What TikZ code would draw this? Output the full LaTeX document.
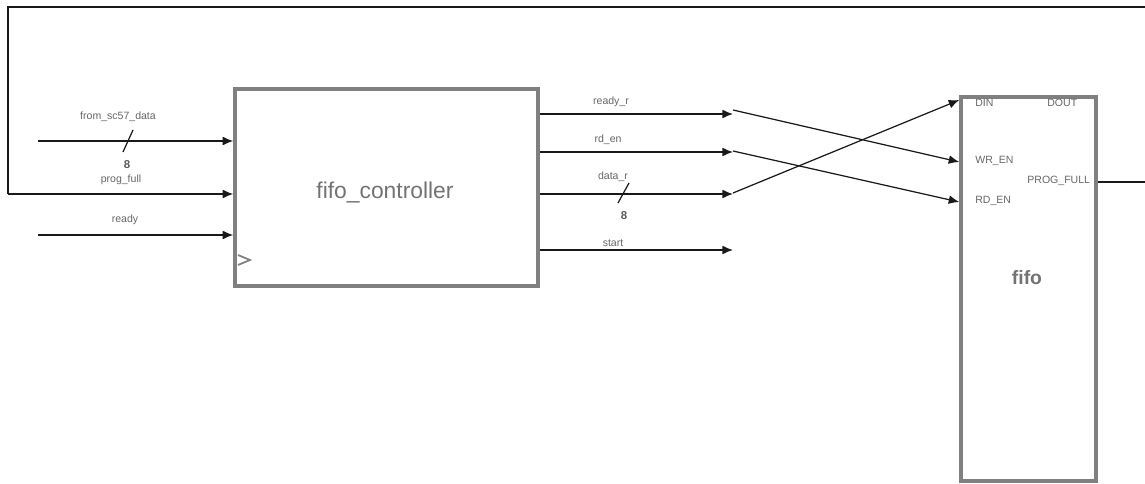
\documentclass[tikz,border=0pt]{standalone}
\usepackage{fontspec}
\setsansfont{Liberation Sans}
\usetikzlibrary{arrows.meta,positioning,calc}

\begin{document}
\begin{tikzpicture}[x=0.02cm,y=-0.02cm,
  every node/.style={font=\sffamily\fontsize{6}{7}\selectfont,text=black!60},
  block/.style={draw=black!50,line width=2pt,inner sep=0pt},
  title/.style={font=\sffamily\fontsize{13}{15}\selectfont,text=black!55},
  port/.style={anchor=west,inner sep=0pt},
  sig/.style={draw=black!90,line width=0.7pt,-{Latex[length=6pt,width=5pt]}},
  wire/.style={draw=black!90,line width=0.7pt},
  bus/.style={font=\sffamily\bfseries\fontsize{6.5}{7}\selectfont,text=black!65}]
\useasboundingbox (0,0) rectangle (1145,483);
\clip (0,0) rectangle (1145,483);

% blocks
\node[block,minimum width=6.06cm,minimum height=3.94cm] (ctrl) at (386.5,187.5) {};
\node[title] at (385,192) {fifo\_controller};
\draw[black!50,line width=1pt] (238,255) -- (250,260) -- (238,265);
\node[block,minimum width=2.7cm,minimum height=7.68cm] (fifo) at (1028.5,289) {};
\node[title,font=\sffamily\bfseries\fontsize{11}{13}\selectfont] at (1027,278) {fifo};

% fifo ports
\node[port] (din) at (975,103) {DIN};
\node[port] (dout) at (1047,103) {DOUT};
\node[port] (wren) at (975,161) {WR\_EN};
\node[port] (rden) at (975,201) {RD\_EN};
\node[port] (pfull) at (1027,181) {PROG\_FULL};

% inputs
\coordinate (fsrc) at (38,141);
\coordinate (rsrc) at (38,235);
\draw[sig] (fsrc) -- (fsrc -| ctrl.west);
\node at (118,117) {from\_sc57\_data};
\draw[wire] (123,152) -- (133,130);
\node[bus] at (127,165) {8};
\node at (121,180) {prog\_full};
\draw[sig] (rsrc) -- (rsrc -| ctrl.west);
\node at (125,220) {ready};

% outputs
\coordinate (rr) at (733,114);
\coordinate (re) at (733,152);
\coordinate (dr) at (733,194);
\coordinate (st) at (733,250);
\draw[sig] (rr -| ctrl.east) -- (rr);
\node at (611,102) {ready\_r};
\draw[sig] (re -| ctrl.east) -- (re);
\node at (608,140) {rd\_en};
\draw[sig] (dr -| ctrl.east) -- (dr);
\node at (613,177) {data\_r};
\draw[wire] (618,203) -- (629,183);
\node[bus] at (624,216) {8};
\draw[sig] (st -| ctrl.east) -- (st);
\node at (613,243) {start};

% crossing to fifo
\draw[sig] (733,110) -- (fifo.west |- 0,162);
\draw[sig] (733,151) -- (fifo.west |- 0,202);
\draw[sig] (733,193) -- (fifo.west |- 0,100);

% prog_full loop
\coordinate (lp) at (8,194);
\draw[wire] (fifo.east |- 0,182) -- (1150,182) -- (1150,7) -- (8,7) -- (lp);
\draw[sig] (lp) -- (lp -| ctrl.west);
\end{tikzpicture}
\end{document}
